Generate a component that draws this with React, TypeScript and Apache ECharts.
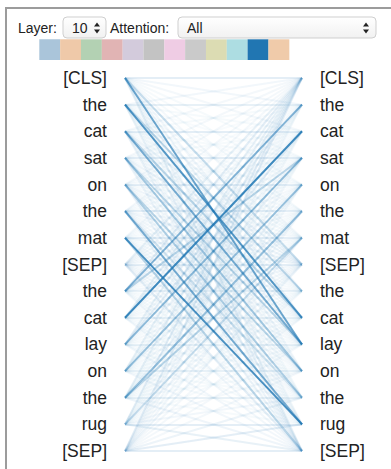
import React, { useEffect, useRef } from "react";
import * as echarts from "echarts";

const tokens = ["[CLS]", "the", "cat", "sat", "on", "the", "mat", "[SEP]", "the", "cat", "lay", "on", "the", "rug", "[SEP]"];

// attention weights: row = source token (left), column = target token (right)
const attention: number[][] = [
  [0.12, 0.06, 0.05, 0.04, 0.04, 0.04, 0.05, 0.25, 0.06, 0.08, 0.65, 0.06, 0.04, 0.05, 0.10],
  [0.06, 0.10, 0.04, 0.03, 0.03, 0.04, 0.04, 0.08, 0.30, 0.75, 0.06, 0.04, 0.04, 0.04, 0.08],
  [0.05, 0.04, 0.12, 0.04, 0.03, 0.03, 0.04, 0.08, 0.06, 0.30, 0.60, 0.05, 0.04, 0.05, 0.08],
  [0.05, 0.03, 0.04, 0.12, 0.04, 0.03, 0.04, 0.08, 0.04, 0.06, 0.30, 0.40, 0.05, 0.04, 0.07],
  [0.05, 0.03, 0.03, 0.04, 0.12, 0.04, 0.04, 0.07, 0.04, 0.05, 0.05, 0.30, 0.35, 0.06, 0.07],
  [0.05, 0.03, 0.03, 0.03, 0.04, 0.12, 0.05, 0.07, 0.04, 0.05, 0.05, 0.06, 0.20, 0.60, 0.08],
  [0.05, 0.03, 0.03, 0.03, 0.03, 0.04, 0.12, 0.08, 0.04, 0.04, 0.05, 0.05, 0.06, 0.80, 0.30],
  [0.10, 0.05, 0.05, 0.05, 0.05, 0.05, 0.06, 0.12, 0.05, 0.05, 0.05, 0.05, 0.05, 0.05, 0.12],
  [0.12, 0.55, 0.06, 0.30, 0.05, 0.04, 0.04, 0.06, 0.10, 0.04, 0.04, 0.03, 0.04, 0.04, 0.06],
  [0.10, 0.08, 0.85, 0.06, 0.04, 0.04, 0.04, 0.05, 0.04, 0.10, 0.04, 0.03, 0.03, 0.04, 0.06],
  [0.10, 0.05, 0.12, 0.50, 0.06, 0.04, 0.04, 0.05, 0.04, 0.04, 0.10, 0.04, 0.03, 0.04, 0.06],
  [0.10, 0.04, 0.04, 0.08, 0.45, 0.08, 0.04, 0.05, 0.04, 0.04, 0.04, 0.10, 0.04, 0.04, 0.06],
  [0.10, 0.04, 0.04, 0.04, 0.08, 0.45, 0.30, 0.05, 0.04, 0.04, 0.04, 0.04, 0.10, 0.04, 0.07],
  [0.12, 0.04, 0.04, 0.04, 0.04, 0.06, 0.25, 0.06, 0.04, 0.04, 0.04, 0.05, 0.06, 0.12, 0.10],
  [0.12, 0.05, 0.05, 0.05, 0.05, 0.05, 0.06, 0.08, 0.05, 0.05, 0.05, 0.05, 0.08, 0.12, 0.12],
];

const headColors = ["#aac5da", "#efc9a9", "#b3d1b3", "#e1b4b4", "#d3cbdc", "#c3c3c3", "#efcce4", "#cacaca", "#dcdcb3", "#addde2", "#2176b2", "#f0cbaa"];

const layerLabel = "Layer:";
const layerValue = "10";
const attentionLabel = "Attention:";
const attentionValue = "All";

const FONT = "'Liberation Sans', Arial, Helvetica, sans-serif";

function arrows(cx: number, cy: number) {
  return [
    { type: "polygon", shape: { points: [[cx - 3, cy - 1.5], [cx + 3, cy - 1.5], [cx, cy - 5.5]] }, style: { fill: "#222" } },
    { type: "polygon", shape: { points: [[cx - 3, cy + 1.5], [cx + 3, cy + 1.5], [cx, cy + 5.5]] }, style: { fill: "#222" } },
  ];
}

function selectBox(x: number, w: number) {
  return {
    type: "rect",
    shape: { x, y: 17, width: w, height: 21, r: 4 },
    style: {
      fill: new echarts.graphic.LinearGradient(0, 0, 0, 1, [
        { offset: 0, color: "#ffffff" },
        { offset: 1, color: "#f1f1f1" },
      ]),
      stroke: "#cfcfcf",
      lineWidth: 1,
    },
  };
}

export default function App() {
  const ref = useRef<HTMLDivElement>(null);
  useEffect(() => {
    if (!ref.current) return;
    const chart = echarts.init(ref.current, null, { renderer: "svg" });

    const linesData: any[] = [];
    attention.forEach((row, i) => {
      row.forEach((w, j) => {
        linesData.push({ coords: [[0, i], [1, j]], lineStyle: { opacity: w } });
      });
    });

    const graphics: any[] = [
      { type: "line", shape: { x1: 6, y1: 8, x2: 6, y2: 469 }, style: { stroke: "#9c9c9c", lineWidth: 2 } },
      { type: "line", shape: { x1: 5, y1: 8, x2: 391, y2: 8 }, style: { stroke: "#9c9c9c", lineWidth: 2 } },
      { type: "text", x: 18, y: 28, style: { text: layerLabel, font: `14px ${FONT}`, fill: "#222", textVerticalAlign: "middle", verticalAlign: "middle" } },
      selectBox(63, 43),
      { type: "text", x: 72, y: 28, style: { text: layerValue, font: `14px ${FONT}`, fill: "#222", verticalAlign: "middle" } },
      ...arrows(97, 28),
      { type: "text", x: 110, y: 28, style: { text: attentionLabel, font: `14px ${FONT}`, fill: "#222", verticalAlign: "middle" } },
      selectBox(178, 198),
      { type: "text", x: 187, y: 28, style: { text: attentionValue, font: `14px ${FONT}`, fill: "#222", verticalAlign: "middle" } },
      ...arrows(366, 28),
    ];
    headColors.forEach((c, k) => {
      graphics.push({
        type: "rect",
        shape: { x: 39.3 + k * 20.83, y: 39.3, width: 20.9, height: 20.7 },
        style: { fill: c },
      });
    });

    const yAxisBase = {
      type: "category",
      data: tokens,
      inverse: true,
      boundaryGap: false,
      axisLine: { show: false },
      axisTick: { show: false },
      splitLine: { show: false },
      axisLabel: { interval: 0, fontSize: 17.5, color: "#222", margin: 18, fontFamily: FONT },
    };

    chart.setOption({
      animation: false,
      grid: { left: 125, right: 89, top: 78, bottom: 18, containLabel: false },
      xAxis: { type: "value", min: 0, max: 1, show: false },
      yAxis: [
        { ...yAxisBase, position: "left" },
        { ...yAxisBase, position: "right" },
      ],
      graphic: graphics,
      series: [
        {
          type: "lines",
          coordinateSystem: "cartesian2d",
          xAxisIndex: 0,
          yAxisIndex: 0,
          silent: true,
          lineStyle: { color: "#1f77b4", width: 2, curveness: 0 },
          data: linesData,
        },
      ],
    });
    return () => chart.dispose();
  }, []);
  return <div ref={ref} style={{ position: "fixed", left: 0, top: 0, width: 391, height: 469, background: "#fff" }} />;
}
